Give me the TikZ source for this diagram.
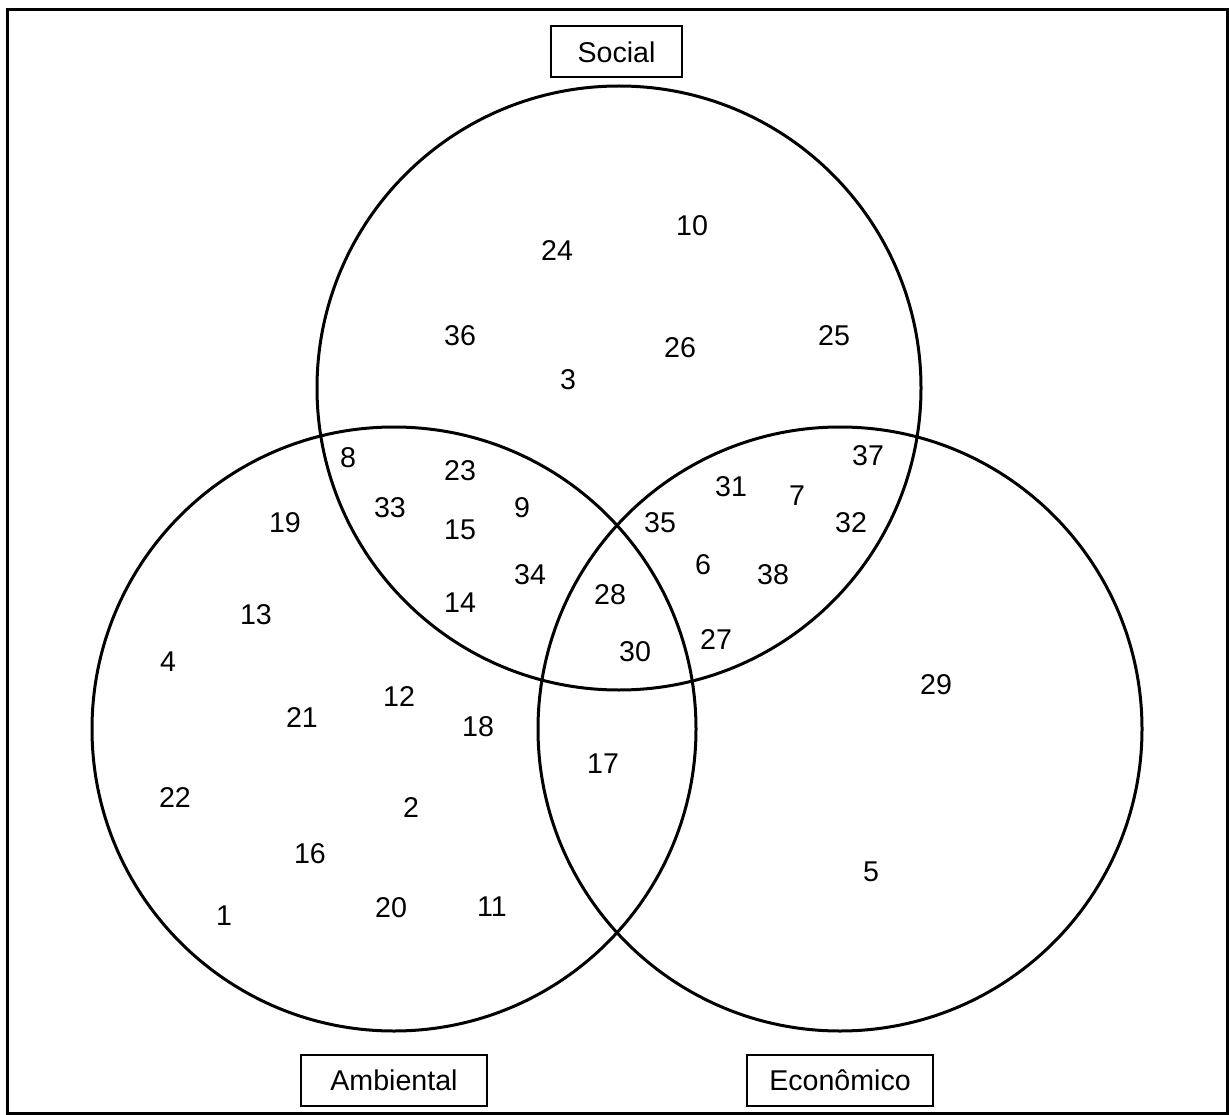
\documentclass[tikz,border=0pt]{standalone}
\usepackage{fontspec}
\setmainfont{Liberation Sans}
\begin{document}
\begin{tikzpicture}[x=1pt,y=-1pt,
  setcircle/.style={circle,draw,line width=3pt,minimum size=604pt,inner sep=0pt},
  labelbox/.style={draw,line width=2pt,inner sep=0pt,minimum height=51pt,font=\fontsize{28.6}{34}\selectfont},
  num/.style={inner sep=0pt,font=\fontsize{28.6}{34}\selectfont}]
\useasboundingbox (0,0) rectangle (1229,1115);
\draw[line width=3pt] (7,10) rectangle (1227,1113);
% circles
\node[setcircle] (soc) at (619,388) {};
\node[setcircle] (amb) at (394,729) {};
\node[setcircle] (eco) at (840,729) {};
% labels
\node[labelbox,minimum width=131pt] (lsoc) at (616.5,52) {Social};
\node[labelbox,minimum width=186pt] (lamb) at (394,1080) {Ambiental};
\node[labelbox,minimum width=186pt] (leco) at (840,1080) {Econômico};
% Social only
\node[num] (n24) at (557,251) {24};
\node[num] (n10) at (692,226) {10};
\node[num] (n36) at (460,336) {36};
\node[num] (n26) at (680,348) {26};
\node[num] (n25) at (834,336) {25};
\node[num] (n3) at (568,380) {3};
% Social and Ambiental
\node[num] (n8) at (348,458) {8};
\node[num] (n23) at (460,471) {23};
\node[num] (n33) at (390,508) {33};
\node[num] (n9) at (522,508) {9};
\node[num] (n15) at (460,530) {15};
\node[num] (n34) at (530,575) {34};
\node[num] (n14) at (460,603) {14};
% all three
\node[num] (n28) at (610,595) {28};
\node[num] (n30) at (635,652) {30};
% Social and Economico
\node[num] (n35) at (660,523) {35};
\node[num] (n31) at (731,487) {31};
\node[num] (n7) at (797,496) {7};
\node[num] (n37) at (868,456) {37};
\node[num] (n32) at (851,523) {32};
\node[num] (n6) at (703,565) {6};
\node[num] (n38) at (773,575) {38};
\node[num] (n27) at (716,640) {27};
% Ambiental only
\node[num] (n19) at (285,523) {19};
\node[num] (n13) at (256,615) {13};
\node[num] (n4) at (168,662) {4};
\node[num] (n21) at (302,718) {21};
\node[num] (n12) at (399,697) {12};
\node[num] (n18) at (478,727) {18};
\node[num] (n22) at (175,798) {22};
\node[num] (n2) at (411,808) {2};
\node[num] (n16) at (310,854) {16};
\node[num] (n1) at (224,916) {1};
\node[num] (n20) at (391,908) {20};
\node[num] (n11) at (492,907) {11};
% Ambiental and Economico
\node[num] (n17) at (603,764) {17};
% Economico only
\node[num] (n29) at (936,685) {29};
\node[num] (n5) at (871,872) {5};
\end{tikzpicture}
\end{document}
